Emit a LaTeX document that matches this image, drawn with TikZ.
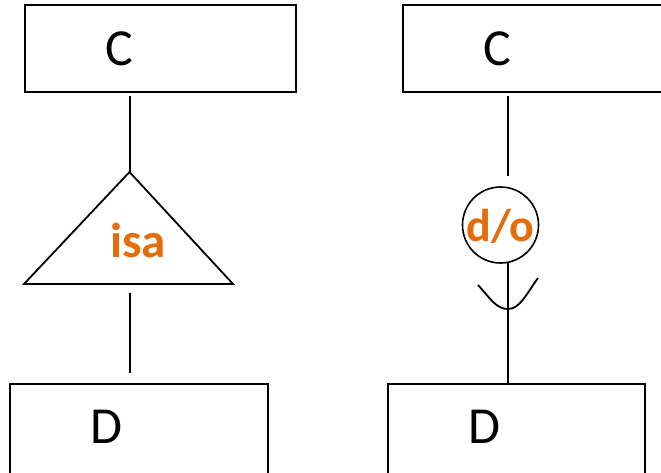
\documentclass[tikz,border=0pt]{standalone}
\usepackage{fontspec}
\setmainfont{Carlito}
\definecolor{isaorange}{RGB}{228,108,10}
\begin{document}
\begin{tikzpicture}[x=1pt,y=-1pt,
  line width=1.8pt,
  entity/.style={draw, rectangle, inner sep=0pt, line width=1.6pt},
  bigtext/.style={inner sep=0pt, font=\fontsize{52}{52}\selectfont},
  rel/.style={inner sep=0pt, text=isaorange, font=\bfseries\fontsize{46}{46}\selectfont}]
\useasboundingbox (0,0) rectangle (661,472);
% left side
\node[entity, minimum width=271pt, minimum height=87pt] (C1) at (160.5,48.5) {};
\node[bigtext] (C1t) at (119,49) {C};
\coordinate (a1) at (130,96);
\coordinate (apex) at (129.5,172);
\coordinate (bl) at (24,284);
\coordinate (br) at (233,284);
\draw (a1) -- (apex -| a1);
\draw (apex) -- (bl) -- (br) -- cycle;
\node[rel, font=\bfseries\fontsize{49}{49}\selectfont] (isa) at (138,240) {isa};
\coordinate (b1) at (130,293);
\coordinate (b2) at (130,373);
\draw (b1) -- (b2);
\node[entity, minimum width=258pt, minimum height=140pt, anchor=north west] (D1) at (9,383) {};
\node[bigtext] (D1t) at (106,427) {D};
% right side
\coordinate (C2a) at (720,5);
\coordinate (C2b) at (403,5);
\coordinate (C2c) at (403,92);
\coordinate (C2d) at (720,92);
\draw[line width=1.6pt] (C2a) -- (C2b) -- (C2c) -- (C2d);
\node[bigtext] (C2t) at (497,49) {C};
\coordinate (a2) at (508,96);
\coordinate (a3) at (508,176);
\draw (a2) -- (a3);
\node[draw, circle, minimum size=76pt, inner sep=0pt, line width=1.6pt] (do) at (500.5,225) {};
\node[rel] (dot) at (500.5,226) {d/o};
\node[entity, minimum width=257pt, minimum height=140pt, anchor=north west] (D2) at (387,383) {};
\node[bigtext] (D2t) at (484,427) {D};
\draw (508,263) -- (D2.north -| 508,0);
\coordinate (u1) at (478,285);
\coordinate (u2) at (508,309);
\coordinate (u3) at (538,278);
\draw (u1) .. controls (490,298) and (496,309) .. (u2) .. controls (520,309) and (527,293) .. (u3);
\end{tikzpicture}
\end{document}
